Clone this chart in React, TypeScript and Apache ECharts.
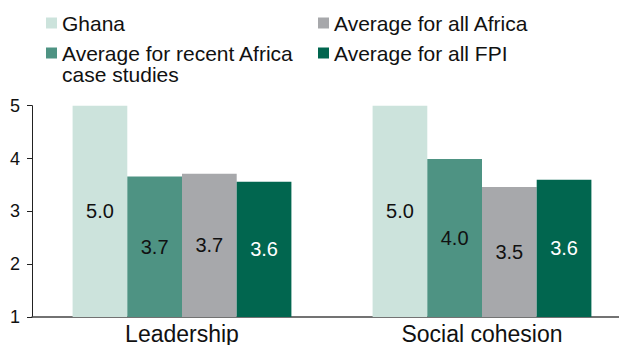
import React, { useEffect, useRef } from "react";
import * as echarts from "echarts";

const categories = ["Leadership", "Social cohesion"];
const seriesNames = [
  "Ghana",
  "Average for recent Africa case studies",
  "Average for all Africa",
  "Average for all FPI",
];
const ghana = [5.0, 5.0];
const recentAfrica = [3.66, 3.99];
const allAfrica = [3.71, 3.46];
const allFPI = [3.56, 3.6];
const yTicks = [1, 2, 3, 4, 5];

const colors = ["#cce3dc", "#4e9383", "#a7a8ab", "#01664f"];
const labelColors = ["#111", "#111", "#111", "#ffffff"];
const FONT = "'Liberation Sans', Arial, Helvetica, sans-serif";

export default function App() {
  const ref = useRef<HTMLDivElement>(null);
  useEffect(() => {
    if (!ref.current) return;
    const chart = echarts.init(ref.current, null, { renderer: "svg" });
    const dataSets = [ghana, recentAfrica, allAfrica, allFPI];
    const legendPos = [
      { left: 46, top: 12 },
      { left: 46, top: 42 },
      { left: 318, top: 12 },
      { left: 318, top: 42 },
    ];
    chart.setOption({
      animation: false,
      textStyle: { fontFamily: FONT },
      legend: seriesNames.map((name, i) => ({
        data: [name],
        left: legendPos[i].left,
        top: legendPos[i].top,
        padding: 0,
        icon: "rect",
        itemWidth: 11,
        itemHeight: 11,
        itemGap: 5,
        selectedMode: false,
        formatter: (n: string) =>
          n === "Average for recent Africa case studies" ? "Average for recent Africa" : n,
        textStyle: {
          fontFamily: FONT,
          fontSize: 21,
          color: "#111",
          lineHeight: 22,
          padding: [0, 0, 0, 0],
        },
      })),
      graphic: [
        {
          type: "text",
          left: 62,
          top: 64,
          style: { text: "case studies", fontFamily: FONT, fontSize: 21, fill: "#111" },
        },
      ],
      grid: { left: 32, top: 105.7, right: 0, height: 215, containLabel: false },
      xAxis: {
        type: "category",
        data: categories,
        axisLine: { lineStyle: { color: "#444", width: 1.5 } },
        axisTick: { show: false },
        axisLabel: { color: "#111", fontSize: 23, fontFamily: FONT, margin: 5 },
      },
      yAxis: {
        type: "value",
        min: yTicks[0],
        max: yTicks[yTicks.length - 1],
        interval: 1,
        splitLine: { show: false },
        axisLine: { show: true, lineStyle: { color: "#222", width: 1 } },
        axisTick: { show: true, length: 5, lineStyle: { color: "#222" } },
        axisLabel: { color: "#111", fontSize: 18, fontFamily: FONT, margin: 12 },
      },
      series: dataSets.map((d, i) => ({
        name: seriesNames[i],
        type: "bar",
        data: d,
        barWidth: 54.7,
        barGap: "0%",
        itemStyle: { color: colors[i] },
        label: {
          show: true,
          position: "inside",
          formatter: (p: any) => Number(p.value).toFixed(1),
          color: labelColors[i],
          fontSize: 20,
          fontFamily: FONT,
        },
      })),
    });
    return () => chart.dispose();
  }, []);
  return (
    <div
      style={{
        position: "fixed",
        left: 0,
        top: 0,
        width: 619,
        height: 345,
        overflow: "hidden",
        background: "#fff",
      }}
    >
      <div ref={ref} style={{ width: 632, height: 345 }} />
    </div>
  );
}
